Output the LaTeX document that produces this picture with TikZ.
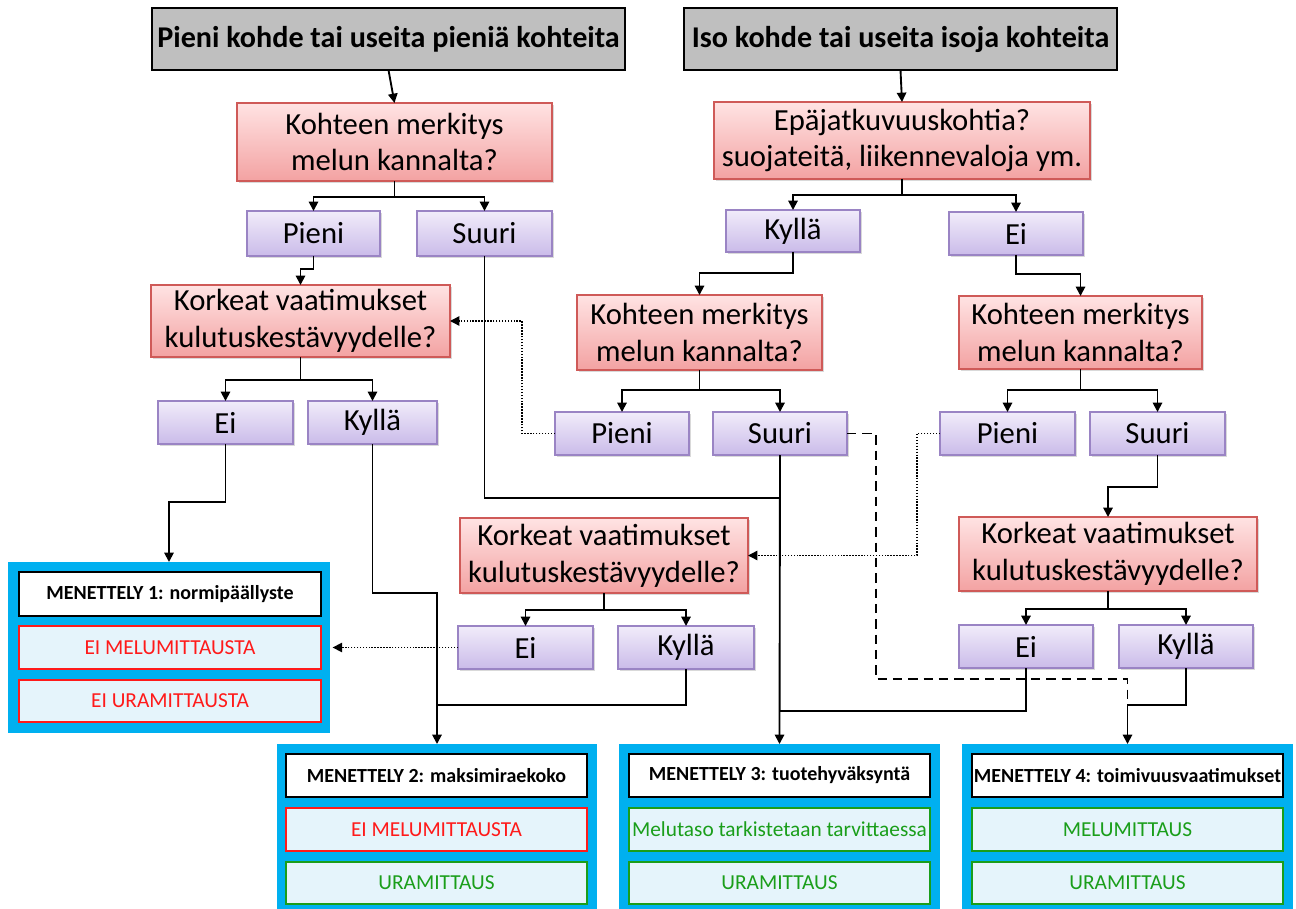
\documentclass[tikz,border=0pt]{standalone}
\usepackage{fontspec}
\setmainfont{Carlito}
\usetikzlibrary{arrows.meta,shadows}
\definecolor{hdrgray}{HTML}{BFBFBF}
\definecolor{pinktop}{HTML}{FFE3E3}
\definecolor{pinkbot}{HTML}{F3A2A2}
\definecolor{pinkline}{HTML}{CF5A58}
\definecolor{purptop}{HTML}{F1ECFA}
\definecolor{purpbot}{HTML}{CABBE9}
\definecolor{purpline}{HTML}{9A84C4}
\definecolor{procblue}{HTML}{00B0F0}
\definecolor{lightbg}{HTML}{E5F4FB}
\definecolor{redc}{HTML}{FF1A1A}
\definecolor{greenc}{HTML}{1A9E1A}
\newcommand\bx[7]{\node[#6, minimum width={(#4-#2)*0.75pt}, minimum height={(#5-#3)*0.75pt}] (#1) at ({(#2+#4)/2},{(#3+#5)/2}) {#7};}
\tikzset{
 base/.style={inner sep=0pt, outer sep=0pt, align=center},
 hdr/.style={base, fill=hdrgray, draw=black, line width=1.3pt, font=\fontsize{22.6}{26}\selectfont\bfseries},
 quest/.style={base, draw=pinkline, line width=0.8pt, top color=pinktop, bottom color=pinkbot,
   drop shadow={opacity=0.3,shadow xshift=1.5pt,shadow yshift=-1.5pt}, font=\fontsize{23}{27.5}\selectfont},
 ans/.style={base, draw=purpline, line width=0.8pt, top color=purptop, bottom color=purpbot,
   drop shadow={opacity=0.3,shadow xshift=1.5pt,shadow yshift=-1.5pt}, font=\fontsize{23}{26}\selectfont},
 procbox/.style={base, fill=procblue},
 mhead/.style={base, fill=white, draw=black, line width=0.9pt, font=\fontsize{15}{18}\selectfont\bfseries},
 mred/.style={base, fill=lightbg, draw=redc, line width=0.9pt, text=redc, font=\fontsize{16}{18}\selectfont},
 mgreen/.style={base, fill=lightbg, draw=greenc, line width=0.9pt, text=greenc, font=\fontsize{16}{18}\selectfont},
 con/.style={draw=black, line width=1.4pt},
 arr/.style={con, -{Triangle[length=7pt,width=7pt]}},
 dotarr/.style={draw=black, line width=1.1pt, dash pattern=on 1.1pt off 1.1pt, -{Triangle[length=7pt,width=7pt]}},
 dashln/.style={draw=black, line width=1.2pt, dash pattern=on 7pt off 4.5pt},
}
\begin{document}
\begin{tikzpicture}[x=0.75pt,y=-0.75pt]
\useasboundingbox (0,0) rectangle (1296,909);
% headers
\bx{h1}{152}{8}{625}{70}{hdr}{Pieni kohde tai useita pieniä kohteita}
\bx{h2}{684}{8}{1117}{70}{hdr}{Iso kohde tai useita isoja kohteita}
% questions
\bx{pA}{237}{103}{552}{181}{quest}{Kohteen merkitys\\melun kannalta?}
\bx{pC}{714}{102}{1090}{179}{quest}{Epäjatkuvuuskohtia?\\suojateitä, liikennevaloja ym.}
\bx{pB}{151}{285}{450}{357}{quest}{Korkeat vaatimukset\\kulutuskestävyydelle?}
\bx{pD}{577}{295}{822}{370}{quest}{Kohteen merkitys\\melun kannalta?}
\bx{pE}{959}{296}{1202}{369}{quest}{Kohteen merkitys\\melun kannalta?}
\bx{pF}{460}{518}{748}{593}{quest}{Korkeat vaatimukset\\kulutuskestävyydelle?}
\bx{pG}{959}{517}{1257}{591}{quest}{Korkeat vaatimukset\\kulutuskestävyydelle?}
% answers
\bx{pieL}{247}{211}{380}{256}{ans}{Pieni}
\bx{suuL}{417}{211}{552}{256}{ans}{Suuri}
\bx{eiL}{158}{401}{293}{444}{ans}{Ei}
\bx{kylL}{308}{401}{437}{444}{ans}{Kyllä}
\bx{kylR}{726}{210}{860}{252}{ans}{Kyllä}
\bx{eiR}{949}{212}{1083}{255}{ans}{Ei}
\bx{pieM}{555}{412}{689}{455}{ans}{Pieni}
\bx{suuM}{713}{412}{847}{455}{ans}{Suuri}
\bx{pieR}{940}{412}{1075}{455}{ans}{Pieni}
\bx{suuR}{1090}{412}{1225}{455}{ans}{Suuri}
\bx{eiF}{458}{626}{593}{669}{ans}{Ei}
\bx{kylF}{618}{626}{754}{669}{ans}{Kyllä}
\bx{eiG}{959}{625}{1093}{668}{ans}{Ei}
\bx{kylG}{1119}{625}{1253}{668}{ans}{Kyllä}
% procedures
\bx{m1}{8}{562}{330}{733}{procbox}{}
\bx{m1h}{19}{572}{321}{616}{mhead}{MENETTELY 1: normipäällyste}
\bx{m1a}{19}{626}{321}{669}{mred}{EI MELUMITTAUSTA}
\bx{m1b}{19}{680}{321}{722}{mred}{EI URAMITTAUSTA}
\bx{m2}{277}{744}{597}{909}{procbox}{}
\bx{m2h}{286}{754}{587}{797}{mhead}{MENETTELY 2: maksimiraekoko}
\bx{m2a}{286}{808}{587}{851}{mred}{EI MELUMITTAUSTA}
\bx{m2b}{286}{862}{587}{904}{mgreen}{URAMITTAUS}
\bx{m3}{619}{744}{940}{909}{procbox}{}
\bx{m3h}{629}{754}{930}{797}{mhead}{MENETTELY 3: tuotehyväksyntä}
\bx{m3a}{629}{808}{930}{851}{mgreen}{Melutaso tarkistetaan tarvittaessa}
\bx{m3b}{629}{862}{930}{904}{mgreen}{URAMITTAUS}
\bx{m4}{962}{744}{1293}{909}{procbox}{}
\bx{m4h}{972}{754}{1283}{797}{mhead}{MENETTELY 4: toimivuusvaatimukset}
\bx{m4a}{972}{808}{1283}{851}{mgreen}{MELUMITTAUS}
\bx{m4b}{972}{862}{1283}{904}{mgreen}{URAMITTAUS}
% connectors - left
\draw[arr] (h1.south) -- (pA.north);
\draw[con] (pA.south) -- (pA.south |- 0,197) coordinate (bA);
\draw[arr] (bA) -| (pieL.north);
\draw[arr] (bA) -| (suuL.north);
\draw[arr] (pieL.south) -- (pieL.south |- 0,269) -| (pB.north);
\draw[con] (pB.south) -- (pB.south |- 0,380) coordinate (bB);
\draw[arr] (bB) -| (eiL.north);
\draw[arr] (bB) -| (kylL.north);
\draw[arr] (eiL.south) -- (eiL.south |- 0,502) -| (m1.north);
\draw[arr] (kylL.south) -- (kylL.south |- 0,593) -| (m2.north);
\draw[con] (suuL.south) -- (suuL.south |- 0,498) -- (suuM.south |- 0,498);
% right
\draw[arr] (h2.south) -- (pC.north);
\draw[con] (pC.south) -- (pC.south |- 0,195) coordinate (bC);
\draw[arr] (bC) -| (kylR.north);
\draw[arr] (bC) -| (eiR.north);
\draw[arr] (kylR.south) -- (kylR.south |- 0,273) -| (pD.north);
\draw[arr] (eiR.south) -- (eiR.south |- 0,274) -| (pE.north);
\draw[con] (pD.south) -- (pD.south |- 0,390) coordinate (bD);
\draw[arr] (bD) -| (pieM.north);
\draw[arr] (bD) -| (suuM.north);
\draw[con] (pE.south) -- (pE.south |- 0,390) coordinate (bE);
\draw[arr] (bE) -| (pieR.north);
\draw[arr] (bE) -| (suuR.north);
\draw[arr] (suuR.south) -- (suuR.south |- 0,487) -| (pG.north);
\draw[con] (pF.south) -- (pF.south |- 0,610) coordinate (bF);
\draw[arr] (bF) -| (eiF.north);
\draw[arr] (bF) -| (kylF.north);
\draw[con] (pG.south) -- (pG.south |- 0,609) coordinate (bG);
\draw[arr] (bG) -| (eiG.north);
\draw[arr] (bG) -| (kylG.north);
% to procedures
\draw[arr] (suuM.south) -- (m3.north);
\draw[con] (eiG.south) |- (m3.north |- 0,711);
\draw[con] (kylF.south) |- (m2.north |- 0,705);
\draw[arr] (kylG.south) |- (m4.north |- 0,705) -- (m4.north);
% dotted and dashed
\draw[dotarr] (pieM.west) -| (522,321) -- (pB.east);
\draw[dotarr] (pieR.west) -| (917,555.5) -- (pF.east);
\draw[dotarr, shorten >=2pt] (eiF.west) -- (eiF.west -| m1.east);
\draw[dashln] (suuM.east) -- (876,433.5) -- (876,679) -- (m4.north |- 0,679) -- (m4.north |- 0,705);
\end{tikzpicture}
\end{document}
